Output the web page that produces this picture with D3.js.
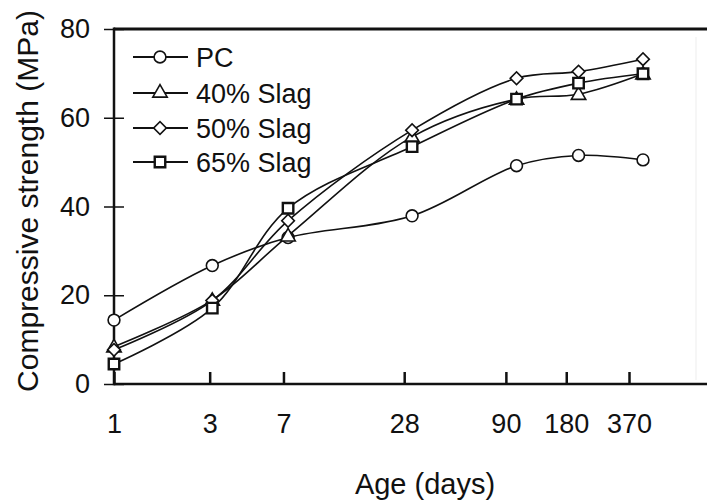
<!DOCTYPE html>
<html>
<head>
<meta charset="utf-8">
<script src="https://cdn.jsdelivr.net/npm/d3@7"></script>
<style>
  body { margin: 0; background: #fff; }
  text { font-family: "Liberation Sans", Arial, sans-serif; fill: #111; }
</style>
</head>
<body>
<div id="chart"></div>
<script>
//Chart data
var ages = [1, 3, 7, 28, 90, 180, 370]
var tickAges = [1, 3, 7, 28, 90, 180, 370]
var yTicks = [0, 20, 40, 60, 80]

var pc = [14.4, 26.7, 33.0, 37.9, 49.2, 51.5, 50.5]
var slag40 = [8.4, 18.9, 33.4, 55.7, 64.2, 65.3, 69.9]
var slag50 = [7.7, 18.8, 36.8, 57.2, 68.9, 70.4, 73.2]
var slag65 = [4.5, 17.1, 39.6, 53.5, 64.2, 67.8, 69.9]

var seriesNames = ["PC", "40% Slag", "50% Slag", "65% Slag"]
var seriesValues = [pc, slag40, slag50, slag65]
//diamond = square turned 45 degrees
var seriesSymbols = [d3.symbolCircle, d3.symbolTriangle, d3.symbolSquare, d3.symbolSquare]
var symbolRotate = [0, 0, 45, 0]
var symbolSizes = [110, 90, 80, 110]
var symbolStroke = [1.6, 1.6, 1.6, 2.4]

var width = 707
var height = 501

var svg = d3.select("#chart")
  .append("svg")
  .attr("width", width)
  .attr("height", height)

//Scales: the markers sit on a log scale, the printed ticks on a slightly narrower one
var x = d3.scaleLog().domain([1, 370]).range([114, 643])
var xTick = d3.scaleLog().domain([1, 370]).range([114, 629])
var y = d3.scaleLinear().domain([0, 80]).range([384, 29])

//Faint right border
svg.append("line")
  .attr("x1", 696).attr("x2", 696)
  .attr("y1", y(80) + 8).attr("y2", y(0) - 4)
  .attr("stroke", "#f3f3f3")
  .attr("stroke-width", 1.5)

//Frame lines
svg.append("line")
  .attr("x1", x(1)).attr("x2", width)
  .attr("y1", y(80)).attr("y2", y(80))
  .attr("stroke", "#111").attr("stroke-width", 3)

svg.append("line")
  .attr("x1", x(1)).attr("x2", width)
  .attr("y1", y(0)).attr("y2", y(0))
  .attr("stroke", "#111").attr("stroke-width", 2.5)

svg.append("line")
  .attr("x1", x(1)).attr("x2", x(1))
  .attr("y1", y(80) - 1.5).attr("y2", y(0) + 1.25)
  .attr("stroke", "#111").attr("stroke-width", 2.5)

//Y axis ticks cross the axis line
var yAxis = d3.axisLeft(y)
  .tickValues(yTicks)
  .tickSizeInner(10)
  .tickSizeOuter(0)
  .tickPadding(14)

var gy = svg.append("g")
  .attr("transform", "translate(" + x(1) + ",0)")
  .call(yAxis)
gy.select(".domain").remove()
gy.selectAll(".tick line")
  .attr("x1", 10)
  .attr("stroke", "#111")
  .attr("stroke-width", 1.5)
gy.selectAll(".tick text")
  .attr("font-size", 27)
  .attr("font-family", "Liberation Sans, Arial, sans-serif")
  .attr("fill", "#111")

//X axis ticks point into the plot
var xAxis = d3.axisBottom(xTick)
  .tickValues(tickAges)
  .tickFormat(d3.format("d"))
  .tickSizeInner(-12)
  .tickSizeOuter(0)
  .tickPadding(30)

var gx = svg.append("g")
  .attr("transform", "translate(0," + y(0) + ")")
  .call(xAxis)
gx.select(".domain").remove()
gx.selectAll(".tick line")
  .attr("stroke", "#111")
  .attr("stroke-width", 2.5)
gx.selectAll(".tick text")
  .attr("font-size", 27)
  .attr("font-family", "Liberation Sans, Arial, sans-serif")
  .attr("fill", "#111")

//Axis titles
svg.append("text")
  .attr("x", 425)
  .attr("y", 494)
  .attr("text-anchor", "middle")
  .attr("font-size", 29)
  .text("Age (days)")

svg.append("text")
  .attr("transform", "translate(38,201) rotate(-90)")
  .attr("text-anchor", "middle")
  .attr("font-size", 30)
  .text("Compressive strength (MPa)")

//Lines
var line = d3.line()
  .x(function(d, i){ return x(ages[i]) })
  .y(function(d){ return y(d) })
  .curve(d3.curveCatmullRom.alpha(0.5))

for (s = 0; s < seriesValues.length; s++) {
  svg.append("path")
    .datum(seriesValues[s])
    .attr("d", line)
    .attr("fill", "none")
    .attr("stroke", "#111")
    .attr("stroke-width", 1.6)
}

//Markers
for (s = 0; s < seriesValues.length; s++) {
  var sym = d3.symbol().type(seriesSymbols[s]).size(symbolSizes[s])
  svg.selectAll(".marker" + s)
    .data(seriesValues[s])
    .enter()
    .append("path")
    .attr("class", "marker" + s)
    .attr("d", sym)
    .attr("transform", function(d, i){
      var dy = s == 1 ? 1 : 0
      return "translate(" + x(ages[i]) + "," + (y(d) + dy) + ") rotate(" + symbolRotate[s] + ")"
    })
    .attr("fill", "#fff")
    .attr("stroke", "#111")
    .attr("stroke-width", symbolStroke[s])
}

//Legend
var legendRows = [57, 93, 128, 162]
var legend = svg.selectAll(".legend")
  .data(seriesNames)
  .enter()
  .append("g")
  .attr("class", "legend")
  .attr("transform", function(d, i){ return "translate(0," + legendRows[i] + ")" })

legend.append("line")
  .attr("x1", 133).attr("x2", 188)
  .attr("y1", 0).attr("y2", 0)
  .attr("stroke", "#111")
  .attr("stroke-width", 2.2)

legend.append("path")
  .attr("d", function(d, i){ return d3.symbol().type(seriesSymbols[i]).size(symbolSizes[i])() })
  .attr("transform", function(d, i){ return "translate(160,0) rotate(" + symbolRotate[i] + ")" })
  .attr("fill", "#fff")
  .attr("stroke", "#111")
  .attr("stroke-width", function(d, i){ return symbolStroke[i] })

legend.append("text")
  .attr("x", 196)
  .attr("y", 0)
  .attr("dy", "0.36em")
  .attr("font-size", 27)
  .text(function(d){ return d })
</script>
</body>
</html>
